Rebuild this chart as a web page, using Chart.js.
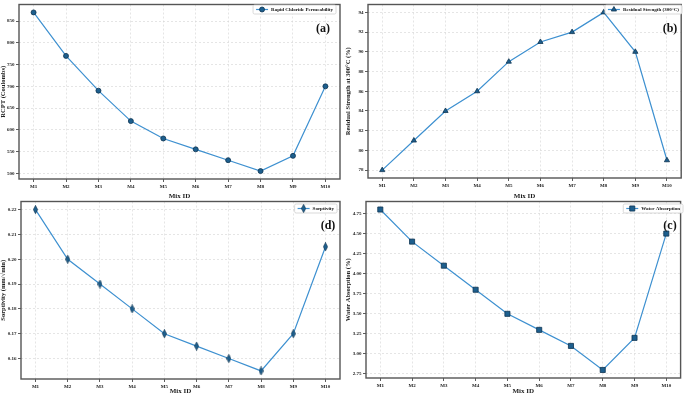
<!DOCTYPE html>
<html><head><meta charset="utf-8">
<script src="https://cdn.jsdelivr.net/npm/chart.js@4"></script>
<style>
html,body{margin:0;padding:0;background:#fff;}
#wrap{position:relative;width:685px;height:395px;overflow:hidden;background:#fff;}
.pane{position:absolute;}
</style></head>
<body><div id="wrap">
<div class="pane" style="left:0;top:0;width:345px;height:200px"><canvas id="ca"></canvas></div>
<div class="pane" style="left:345px;top:0;width:340px;height:200px"><canvas id="cb"></canvas></div>
<div class="pane" style="left:0;top:197px;width:345px;height:198px"><canvas id="cd"></canvas></div>
<div class="pane" style="left:345px;top:197px;width:340px;height:198px"><canvas id="cc"></canvas></div>
</div>
<script>
const categories = ['M1','M2','M3','M4','M5','M6','M7','M8','M9','M10'];
const rcpt       = [870, 770, 690, 620, 580, 555, 530, 505, 540, 700];
const residual   = [78, 81, 84, 86, 89, 91, 92, 94, 90, 79];
const sorptivity = [0.220, 0.200, 0.190, 0.180, 0.170, 0.165, 0.160, 0.155, 0.170, 0.205];
const waterAbs   = [4.80, 4.40, 4.10, 3.80, 3.50, 3.30, 3.10, 2.80, 3.20, 4.50];
const rcptTicks       = [500, 550, 600, 650, 700, 750, 800, 850];
const residualTicks   = [78, 80, 82, 84, 86, 88, 90, 92, 94];
const sorptivityTicks = [0.16, 0.17, 0.18, 0.19, 0.20, 0.21, 0.22];
const waterTicks      = [2.75, 3.00, 3.25, 3.50, 3.75, 4.00, 4.25, 4.50, 4.75];

const FONT = '"Liberation Serif", "DejaVu Serif", serif';
const LINE = '#3d90d0';
const MFILL = '#1d5f8e';
const MEDGE = '#0e3450';

function thinDiamond(){
  const c = document.createElement('canvas');
  c.width = 5; c.height = 9;
  const g = c.getContext('2d');
  g.beginPath(); g.moveTo(2.5,0.4); g.lineTo(4.6,4.5); g.lineTo(2.5,8.6); g.lineTo(0.4,4.5); g.closePath();
  g.fillStyle = MFILL; g.fill(); g.strokeStyle = MEDGE; g.lineWidth = 0.7; g.stroke();
  return c;
}

const frameAndDecor = {
  id: 'frameAndDecor',
  afterDraw(chart, args, o) {
    const ctx = chart.ctx, a = chart.chartArea;
    ctx.save();
    ctx.strokeStyle = '#555'; ctx.lineWidth = 1.4;
    ctx.strokeRect(a.left, a.top, a.right - a.left, a.bottom - a.top);
    ctx.fillStyle = '#111';
    ctx.font = 'bold 12px ' + FONT;
    ctx.textAlign = 'center'; ctx.textBaseline = 'middle';
    ctx.fillText(o.tag, o.tagX, o.tagY);
    ctx.font = 'bold 5px ' + FONT;
    const ds = chart.data.datasets[0];
    const label = ds.label;
    const tw = ctx.measureText(label).width;
    const sample = 12, pad = 3, h = 9;
    const w = pad + sample + 3 + tw + pad;
    const x0 = o.legRight - w, y0 = o.legTop;
    ctx.fillStyle = 'rgba(255,255,255,0.9)';
    ctx.strokeStyle = '#cfcfcf'; ctx.lineWidth = 0.8;
    ctx.beginPath();
    if (ctx.roundRect) ctx.roundRect(x0, y0, w, h, 1.5); else ctx.rect(x0, y0, w, h);
    ctx.fill(); ctx.stroke();
    const cy = y0 + h / 2;
    ctx.strokeStyle = LINE; ctx.lineWidth = 1.2;
    ctx.beginPath(); ctx.moveTo(x0 + pad, cy); ctx.lineTo(x0 + pad + sample, cy); ctx.stroke();
    ctx.fillStyle = MFILL; ctx.strokeStyle = MEDGE; ctx.lineWidth = 0.8;
    Chart.helpers.drawPoint(ctx, {pointStyle: ds.pointStyle, rotation: 0, radius: ds.pointRadius, borderWidth: 0.8}, x0 + pad + sample / 2, cy);
    ctx.fillStyle = '#111'; ctx.textAlign = 'left'; ctx.textBaseline = 'middle';
    ctx.fillText(label, x0 + pad + sample + 3, cy + 0.3);
    ctx.restore();
  }
};

function makeChart(id, p) {
  new Chart(document.getElementById(id), {
    type: 'line',
    data: {
      datasets: [{
        label: p.label,
        data: p.values.map((v, i) => ({x: i, y: v})),
        borderColor: LINE, borderWidth: 1.2,
        pointStyle: p.marker, pointRadius: p.r, pointHoverRadius: p.r,
        pointBackgroundColor: MFILL, pointBorderColor: MEDGE, pointBorderWidth: 0.8,
        tension: 0, clip: false
      }]
    },
    options: {
      responsive: true, maintainAspectRatio: false, animation: false,
      events: [],
      layout: {padding: {top: p.padT, right: p.padR, left: 0, bottom: 0}},
      plugins: {legend: {display: false}, tooltip: {enabled: false},
        frameAndDecor: {tag: p.tag, tagX: p.tagX, tagY: p.tagY, legRight: p.legRight, legTop: p.legTop}},
      scales: {
        x: {
          type: 'linear', min: -0.45, max: 9.45,
          afterBuildTicks: s => { s.ticks = categories.map((c, i) => ({value: i})); },
          afterFit: s => { s.height = p.xH; },
          ticks: {callback: v => categories[v], color: '#222', font: {family: FONT, size: 5, weight: 'bold'}, padding: 2, maxRotation: 0, autoSkip: false},
          grid: {color: '#d4d4d4', lineWidth: 0.6, tickColor: '#333', tickLength: 3, tickWidth: 0.8, tickBorderDash: []},
          border: {display: false, dash: [2, 2]},
          title: {display: true, text: 'Mix ID', color: '#222', font: {family: FONT, size: 7, weight: 'bold', lineHeight: 1}, padding: {top: 1, bottom: 0}}
        },
        y: {
          min: p.min, max: p.max,
          afterBuildTicks: s => { s.ticks = p.ticks.map(v => ({value: v})); },
          afterFit: s => { s.width = p.yW; },
          ticks: {callback: v => v.toFixed(p.dec), color: '#222', font: {family: FONT, size: 5, weight: 'bold'}, padding: 1.5},
          grid: {color: '#d4d4d4', lineWidth: 0.6, tickColor: '#333', tickLength: 3, tickWidth: 0.8, tickBorderDash: []},
          border: {display: false, dash: [2, 2]},
          title: {display: true, text: p.title, color: '#222', font: {family: FONT, size: 6.5, weight: 'bold', lineHeight: 1}, padding: {top: 0, bottom: 0}}
        }
      }
    },
    plugins: [frameAndDecor]
  });
}

makeChart('ca', {values: rcpt, ticks: rcptTicks, min: 486.75, max: 888.25, dec: 0,
  title: 'RCPT (Coulombs)', label: 'Rapid Chloride Permeability', marker: 'circle', r: 2.5,
  yW: 19, xH: 21, padT: 2, padR: 5, tag: '(a)', tagX: 323, tagY: 29, legRight: 336, legTop: 5});
makeChart('cb', {values: residual, ticks: residualTicks, min: 77.2, max: 94.8, dec: 0,
  title: 'Residual Strength at 300°C (%)', label: 'Residual Strength (300°C)', marker: 'triangle', r: 3,
  yW: 23, xH: 22, padT: 4, padR: 2, tag: '(b)', tagX: 325, tagY: 29, legRight: 337, legTop: 5});
makeChart('cd', {values: sorptivity, ticks: sorptivityTicks, min: 0.15175, max: 0.22325, dec: 2,
  title: 'Sorptivity (mm/√min)', label: 'Sorptivity', marker: thinDiamond(), r: 3,
  yW: 21, xH: 16, padT: 4, padR: 5, tag: '(d)', tagX: 328, tagY: 29, legRight: 337, legTop: 7});
makeChart('cc', {values: waterAbs, ticks: waterTicks, min: 2.7, max: 4.9, dec: 2,
  title: 'Water Absorption (%)', label: 'Water Absorption', marker: 'rect', r: 3.6,
  yW: 21, xH: 17, padT: 4, padR: 2, tag: '(c)', tagX: 325, tagY: 29, legRight: 338, legTop: 7});
</script>
</body></html>
